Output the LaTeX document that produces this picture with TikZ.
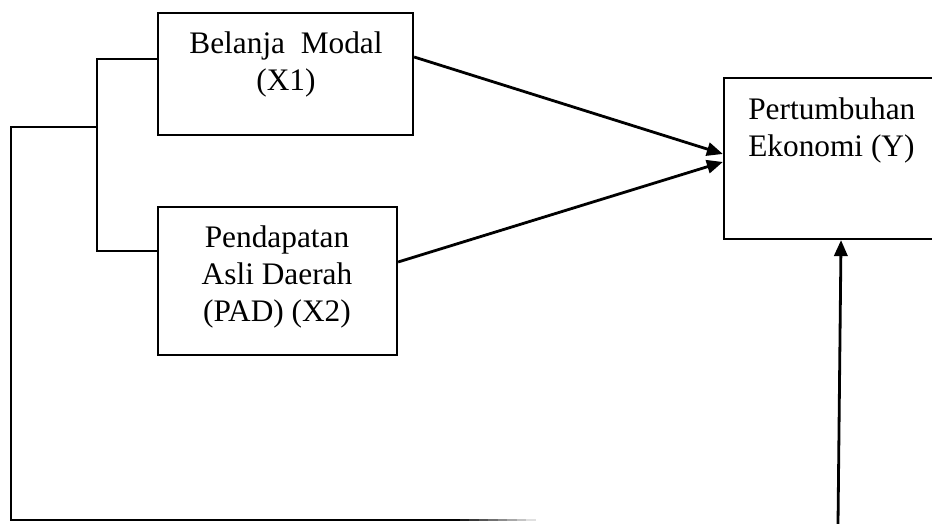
\documentclass[tikz,border=0pt]{standalone}
\usepackage{fontspec}
\setmainfont{Liberation Serif}
\usetikzlibrary{arrows.meta}
\begin{document}
\begin{tikzpicture}[x=0.75pt,y=-0.75pt,
  box/.style={draw, line width=1.7pt, inner sep=0pt},
  lbl/.style={inner sep=0pt, font=\fontsize{23.5}{28}\selectfont},
  link/.style={line width=1.7pt},
  arr/.style={line width=2.1pt, -{Triangle[length=12pt,width=10pt]}}]
\useasboundingbox (0,0) rectangle (932,524);
% boxes
\node[box, minimum width=191.25pt, minimum height=91.5pt] (bm) at (285.5,74) {};
\node[box, minimum width=179.25pt, minimum height=111pt] (pad) at (277.5,281) {};
\node[box, minimum width=165.75pt, minimum height=120.75pt] (pe) at (834.5,158.5) {};
% texts
\node[lbl, align=center, anchor=north] (tbm) at (286,31) {Belanja\ \ Modal\\(X1)};
\node[lbl, align=center, anchor=north] (tpad) at (277,225) {Pendapatan\\Asli Daerah\\(PAD) (X2)};
\node[lbl, align=left, anchor=north west] (tpe) at (748,97) {Pertumbuhan\\Ekonomi (Y)};
% bracket
\coordinate (bt) at (97,59);
\coordinate (bb) at (97,251);
\coordinate (bj) at (97,127);
\coordinate (lj) at (11,127);
\coordinate (lb) at (11,520);
\coordinate (be) at (450,520);
\coordinate (fb) at (838,524);
\draw[link] (bm.west |- bt) -- (bt) -- (bb) -- (pad.west |- bb);
\draw[link] (bj) -- (lj) -- (lb) -- (be);
\foreach \i in {0,...,8}{
  \pgfmathsetmacro{\shadeval}{100-\i*11}
  \draw[line width=1.7pt, color=black!\shadeval] (450+\i*9.5,520) -- (459.5+\i*9.5,520);
}
% arrows
\draw[arr] ([yshift=12.75pt]bm.east) -- ([yshift=3.4pt]pe.west);
\draw[arr] ([yshift=14.25pt]pad.east) -- ([yshift=-2.6pt]pe.west);
\draw[arr] (fb) -- ([xshift=4.9pt]pe.south);
\end{tikzpicture}
\end{document}
